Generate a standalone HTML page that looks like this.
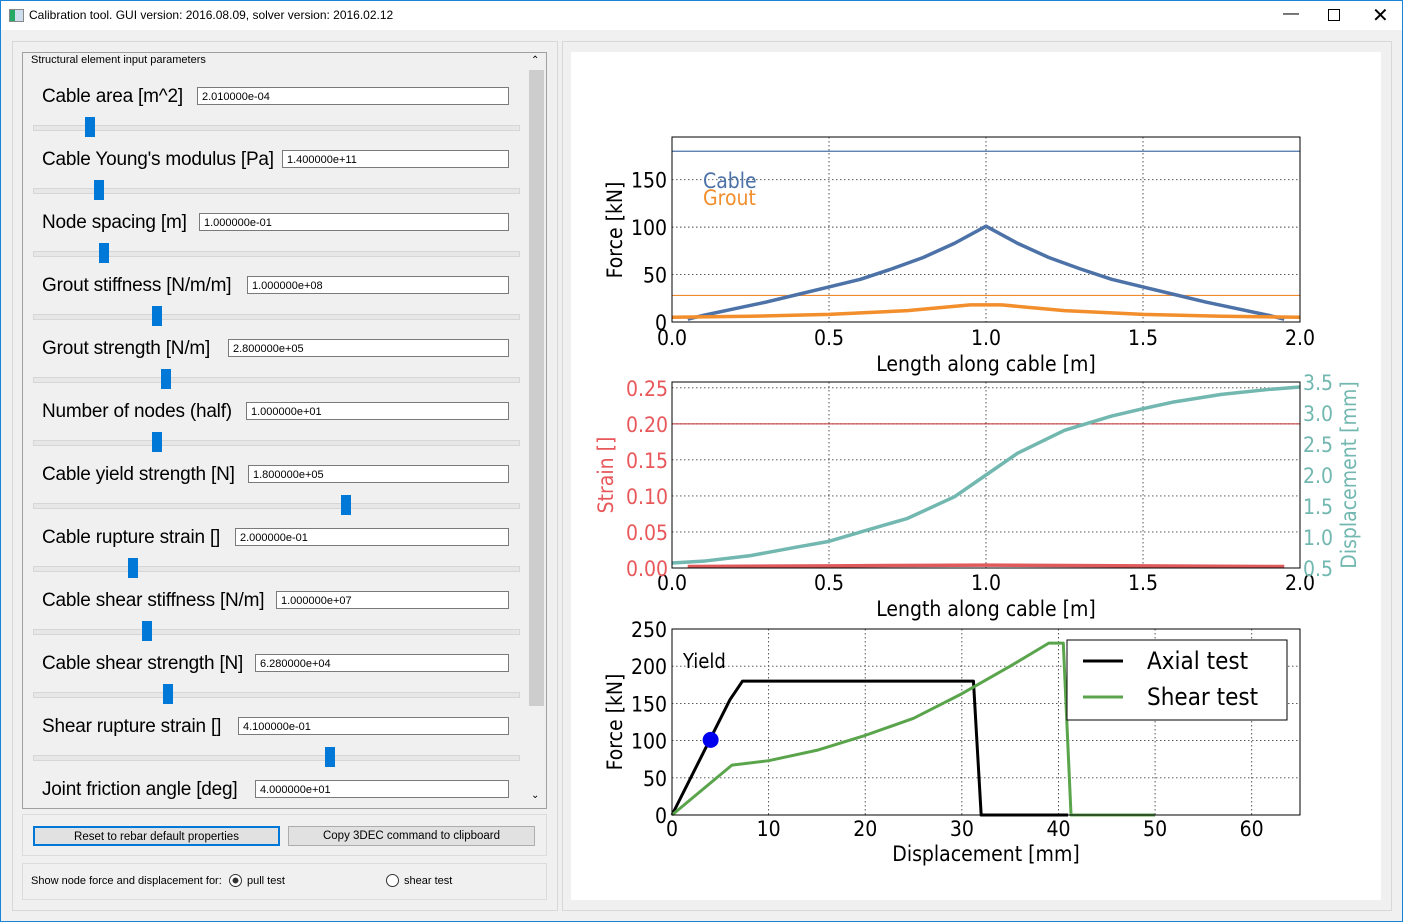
<!DOCTYPE html>
<html><head><meta charset="utf-8"><style>
body{margin:0;width:1403px;height:922px;background:#f0f0f0;position:relative;overflow:hidden;font-family:"Liberation Sans",sans-serif}
.a{position:absolute}
.lbl{position:absolute;left:42px;font-size:19px;color:#000;line-height:22px;white-space:nowrap;letter-spacing:-0.2px}
.box{position:absolute;height:18px;background:#fff;border:1px solid #7a7a7a;font-size:11px;line-height:18px;padding-left:4px;box-sizing:border-box;width:auto;z-index:1}
.trk{position:absolute;left:33px;width:485px;height:4px;background:#e7e7e7;border:1px solid #d6d6d6}
.hdl{position:absolute;width:10px;height:20px;background:#0078d7}
.btn{position:absolute;height:20px;background:#e1e1e1;border:1px solid #adadad;font-size:11.5px;text-align:center;line-height:19px;box-sizing:border-box}
svg text{font-family:"DejaVu Sans Condensed","DejaVu Sans",sans-serif}
</style></head><body>
<div class="a" style="left:0;top:0;width:1401px;height:920px;border:1px solid #1883d7"></div>
<div class="a" style="left:1px;top:1px;width:1401px;height:29px;background:#fff"></div>
<div class="a" style="left:9px;top:9px;width:13px;height:11px;border:1px solid #888;background:linear-gradient(90deg,#2a6 0 40%,#cde 40%)"></div>
<div class="a" style="left:29px;top:8px;font-size:12px">Calibration tool. GUI version: 2016.08.09, solver version: 2016.02.12</div>
<div class="a" style="left:1283px;top:5px;font-size:16px">&#8212;</div>
<div class="a" style="left:1328px;top:9px;width:10px;height:10px;border:1px solid #000"></div>
<div class="a" style="left:1372px;top:3px;font-size:20px">&#10005;</div>

<div class="a" style="left:12px;top:41px;width:544px;height:868px;border:1px solid #d8d8d8"></div>
<div class="a" style="left:22px;top:52px;width:523px;height:755px;border:1px solid #a0a0a0"></div>
<div class="a" style="left:31px;top:54px;font-size:11px">Structural element input parameters</div>
<div class="a" style="left:528px;top:54px;width:17px;height:752px;background:#f0f0f0"></div>
<div class="a" style="left:529px;top:70px;width:15px;height:636px;background:#cdcdcd"></div>
<div class="a" style="left:531px;top:55px;font-size:10px">&#8963;</div>
<div class="a" style="left:531px;top:790px;font-size:10px">&#8964;</div>
<div id="params"></div>

<div class="a" style="left:22px;top:814px;width:523px;height:40px;border:1px solid #dcdcdc"></div>
<div class="btn" style="left:33px;top:826px;width:247px;border:2px solid #0078d7">Reset to rebar default properties</div>
<div class="btn" style="left:288px;top:826px;width:247px">Copy 3DEC command to clipboard</div>
<div class="a" style="left:22px;top:863px;width:523px;height:35px;border:1px solid #dcdcdc"></div>
<div class="a" style="left:31px;top:875px;font-size:11px">Show node force and displacement for:</div>
<div class="a" style="left:229px;top:874px;width:11px;height:11px;border:1px solid #333;border-radius:50%;background:radial-gradient(#333 0 35%,#fff 40%)"></div>
<div class="a" style="left:247px;top:875px;font-size:11px">pull test</div>
<div class="a" style="left:386px;top:874px;width:11px;height:11px;border:1px solid #333;border-radius:50%;background:#fff"></div>
<div class="a" style="left:404px;top:875px;font-size:11px">shear test</div>

<div class="a" style="left:562px;top:41px;width:828px;height:868px;border:1px solid #d8d8d8"></div>
<svg class="a" id="chart" style="left:571px;top:52px;background:#fff" width="810" height="848"></svg>

<script>
const params=[["Cable area [m^2]","2.010000e-04",197,90],["Cable Young's modulus [Pa]","1.400000e+11",282,99],["Node spacing [m]","1.000000e-01",199,104],["Grout stiffness [N/m/m]","1.000000e+08",247,157],["Grout strength [N/m]","2.800000e+05",228,166],["Number of nodes (half)","1.000000e+01",246,157],["Cable yield strength [N]","1.800000e+05",248,346],["Cable rupture strain []","2.000000e-01",235,133],["Cable shear stiffness [N/m]","1.000000e+07",276,147],["Cable shear strength [N]","6.280000e+04",255,168],["Shear rupture strain []","4.100000e-01",238,330],["Joint friction angle [deg]","4.000000e+01",255,null]];
const P=document.getElementById('params');
params.forEach((p,i)=>{const cy=97+63*i;
const l=document.createElement('div');l.className='lbl';l.style.top=(cy-11)+'px';l.textContent=p[0];

P.appendChild(l);
const b=document.createElement('div');b.className='box';b.style.left=p[2]+'px';b.style.width=(509-p[2])+'px';b.style.top=(cy-10)+'px';b.textContent=p[1];

P.appendChild(b);
if(p[3]!==null){const t=document.createElement('div');t.className='trk';t.style.top=(cy+28)+'px';

P.appendChild(t);
const h=document.createElement('div');h.className='hdl';h.style.left=(p[3]-5)+'px';h.style.top=(cy+20)+'px';

P.appendChild(h);}
});

// ---- chart data ----
const cableX=[0.05,0.1,0.2,0.3,0.4,0.5,0.6,0.7,0.8,0.9,1.0,1.1,1.2,1.3,1.4,1.5,1.6,1.7,1.8,1.9,1.95];
const cableF=[3,7,14,21,29,37,45,56,68,83,101,83,68,56,45,37,29,21,14,7,3];
const groutX=[0,0.25,0.5,0.75,0.95,1.05,1.25,1.5,1.75,2.0];
const groutF=[5,6,8,12,18,18,12,8,6,5];
const cableYield=[180];const groutLimit=[28];
const dispX=[0,0.1,0.25,0.4,0.5,0.6,0.75,0.9,1.0,1.1,1.25,1.4,1.5,1.6,1.75,1.9,2.0];
const dispY=[0.58,0.61,0.7,0.84,0.93,1.08,1.3,1.65,2.0,2.35,2.72,2.95,3.07,3.18,3.3,3.38,3.42];
const strainX=[0.05,0.5,1.0,1.5,1.95];
const strainY=[0.002,0.003,0.004,0.003,0.002];
const ruptureStrain=[0.2];
const axialX=[0,6,7.3,31.2,32,41];
const axialF=[0,155,180,180,0,0];
const shearX=[0,6.2,10,15,20,25,30,35,39,40.5,41.3,50];
const shearF=[0,67,73,87,107,130,163,200,231,231,0,0];
const yieldPt=[4,101];
const xTicks1=["0.0","0.5","1.0","1.5","2.0"];
const yTicks1=[0,50,100,150];
const strainTicks=["0.00","0.05","0.10","0.15","0.20","0.25"];
const dispTicks=["0.5","1.0","1.5","2.0","2.5","3.0","3.5"];
const xTicks3=[0,10,20,30,40,50,60];
const yTicks3=[0,50,100,150,200,250];

const S=document.getElementById('chart');const NS='http://www.w3.org/2000/svg';const OX=571,OY=52;
function el(tag,at,txt){const e=document.createElementNS(NS,tag);for(const k in at)e.setAttribute(k,at[k]);if(txt!==undefined)e.textContent=txt;S.appendChild(e);return e;}
function ax(x0,x1,d0,d1){return v=>x0+(v-d0)/(d1-d0)*(x1-x0)-OX;}
function ay(y0,y1,d0,d1){return v=>y0+(v-d0)/(d1-d0)*(y1-y0)-OY;}
function poly(xs,ys,fx,fy,color,w,name){const e=el('polyline',{points:xs.map((x,i)=>fx(x)+','+fy(ys[i])).join(' '),fill:'none',stroke:color,'stroke-width':w,'stroke-linejoin':'round'});

return e;}
function frame(x0,y0,x1,y1,name){const e=el('rect',{x:x0-OX,y:y0-OY,width:x1-x0,height:y1-y0,fill:'none',stroke:'#000','stroke-width':1});

}
function grid(x1,y1,x2,y2){const e=el('line',{x1:x1,y1:y1,x2:x2,y2:y2,stroke:'#444','stroke-width':0.9,'stroke-dasharray':'1.5,2.5'});

}
function txt(x,y,s,size,anchor,color,name,rot){const a={x:x,y:y,'font-size':size,'text-anchor':anchor,fill:color};if(rot)a.transform='rotate(-90 '+x+' '+y+')';const e=el('text',a,s);

return e;}

// chart 1
let fx=ax(672,1300,0,2),fy=ay(322,137,0,195);
xTicks1.forEach(t=>{const v=+t;if(v>0&&v<2)grid(fx(v),137-OY,fx(v),322-OY);txt(fx(v),345-OY,t,21,'middle','#000','x-tick-label');});
yTicks1.forEach(v=>{if(v>0)grid(672-OX,fy(v),1300-OX,fy(v));txt(667-OX,fy(v)+8,String(v),21,'end','#000','y-tick-label');});
poly([0,2],[cableYield[0],cableYield[0]],fx,fy,'#4a73a8',1.2,'cable-yield-line');
poly([0,2],[groutLimit[0],groutLimit[0]],fx,fy,'#f08a2c',1.2,'grout-strength-line');
poly(cableX,cableF,fx,fy,'#4c72a8',3.5,'cable-force-line');
poly(groutX,groutF,fx,fy,'#f28e2b',3.5,'grout-force-line');
frame(672,137,1300,322,'force-axes');
txt(703-OX,188-OY,'Cable',21,'start','#4c72a8','legend-cable');
txt(703-OX,205-OY,'Grout',21,'start','#f28e2b','legend-grout');
txt(622-OX,230-OY,'Force [kN]',21,'middle','#000','y-axis-title',true);
txt(986-OX,371-OY,'Length along cable [m]',21,'middle','#000','x-axis-title');

// chart 2
fx=ax(672,1300,0,2);let fs=ay(568,382,0,0.258),fd=ay(568,382,0.5,3.5);
xTicks1.forEach(t=>{const v=+t;if(v>0&&v<2)grid(fx(v),382-OY,fx(v),568-OY);txt(fx(v),590-OY,t,21,'middle','#000','x-tick-label');});
strainTicks.forEach(t=>{const v=+t;if(v>0)grid(672-OX,fs(v),1300-OX,fs(v));txt(668-OX,fs(v)+8,t,21,'end','#e8585b','strain-tick-label');});
dispTicks.forEach(t=>{txt(1303-OX,fd(+t)+8,t,21,'start','#72b8b0','displacement-tick-label');});
poly([0,2],[ruptureStrain[0],ruptureStrain[0]],fx,fs,'#c0282a',1,'rupture-strain-line');
poly(strainX,strainY,fx,fs,'#e05a5c',3.5,'strain-line');
poly(dispX,dispY,fx,fd,'#72b8b0',3.5,'displacement-line');
frame(672,382,1300,568,'strain-axes');
txt(613-OX,475-OY,'Strain []',21,'middle','#e8585b','strain-axis-title',true);
txt(1356-OX,475-OY,'Displacement [mm]',21,'middle','#72b8b0','displacement-axis-title',true);
txt(986-OX,616-OY,'Length along cable [m]',21,'middle','#000','x-axis-title');

// chart 3
fx=ax(672,1300,0,65);fy=ay(815,629,0,250);
xTicks3.forEach(v=>{if(v>0)grid(fx(v),629-OY,fx(v),815-OY);txt(fx(v),836-OY,String(v),21,'middle','#000','x-tick-label');});
yTicks3.forEach(v=>{if(v>0)grid(672-OX,fy(v),1300-OX,fy(v));txt(667-OX,fy(v)+8,String(v),21,'end','#000','y-tick-label');});
poly(axialX,axialF,fx,fy,'#000',3,'axial-test-line');
poly(shearX,shearF,fx,fy,'#5aa54c',3,'shear-test-line');
const yp=el('circle',{cx:fx(yieldPt[0]),cy:fy(yieldPt[1]),r:8,fill:'#0000ee'});


txt(683-OX,668-OY,'Yield',20,'start','#000','yield-label');
frame(672,629,1300,815,'test-axes');
const lg=el('rect',{x:1067-OX,y:640-OY,width:220,height:80,fill:'#fff',stroke:'#000','stroke-width':1});


poly([0,1],[0,0],v=>1083-OX+v*40,v=>661-OY,'#000',3,'legend-axial-swatch');
poly([0,1],[0,0],v=>1083-OX+v*40,v=>697-OY,'#5aa54c',3,'legend-shear-swatch');
txt(1147-OX,669-OY,'Axial test',24,'start','#000','legend-axial');
txt(1147-OX,705-OY,'Shear test',24,'start','#000','legend-shear');
txt(622-OX,722-OY,'Force [kN]',21,'middle','#000','y-axis-title',true);
txt(986-OX,861-OY,'Displacement [mm]',21,'middle','#000','x-axis-title');
</script>
</body></html>
